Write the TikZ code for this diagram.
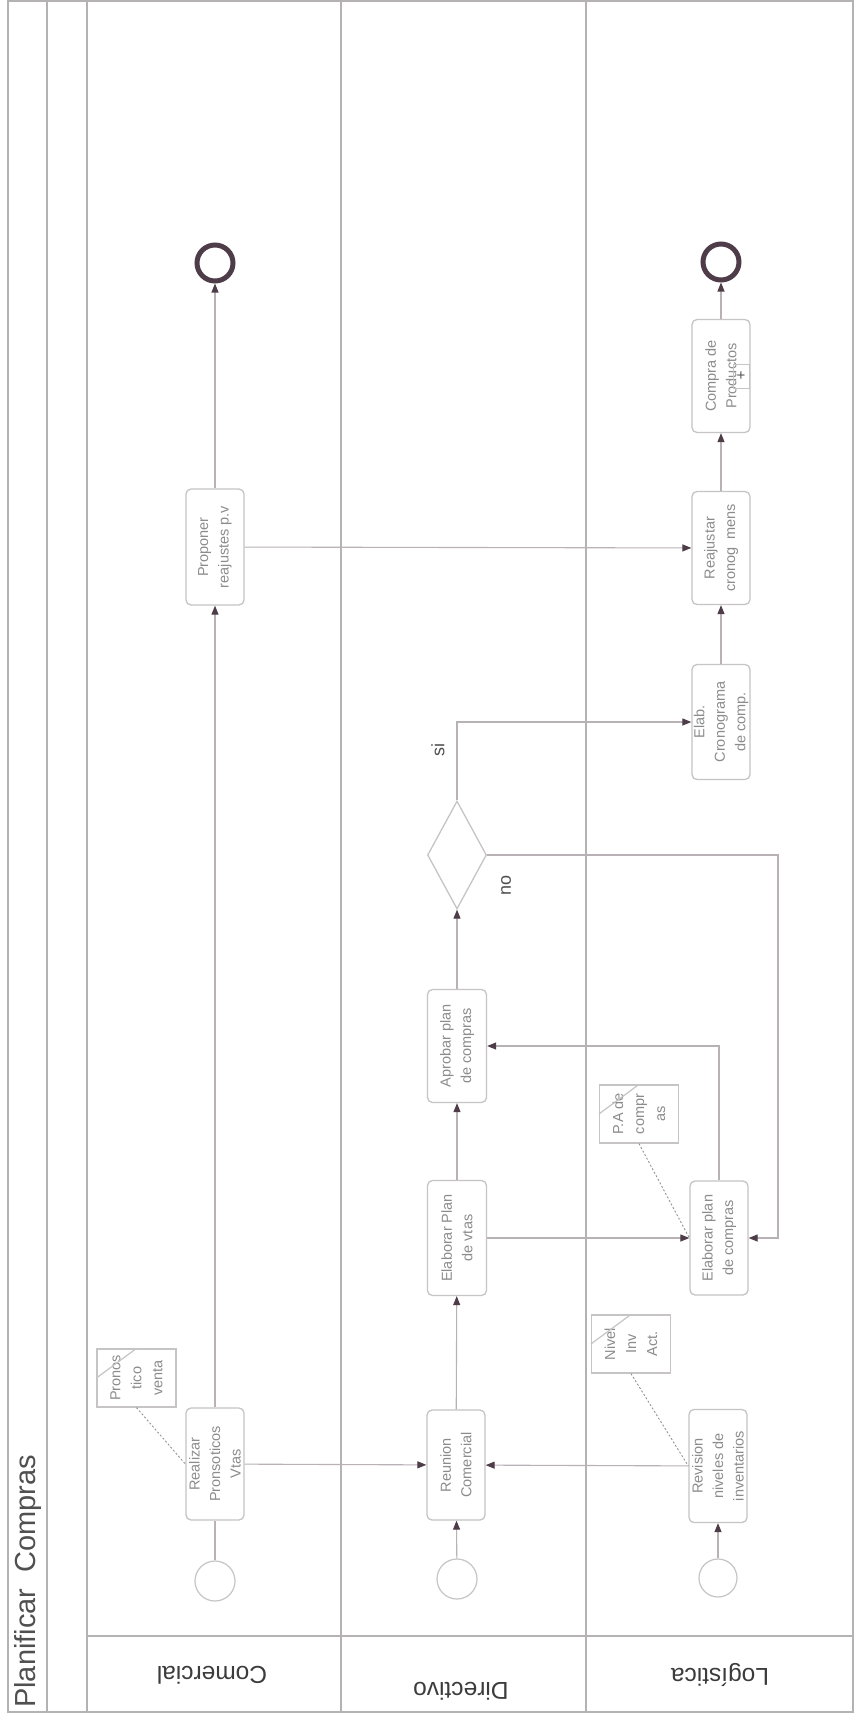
\documentclass[tikz,border=0pt]{standalone}
\usepackage{fontspec}
\setmainfont{Liberation Sans}
\usetikzlibrary{shapes.geometric,arrows.meta,calc}
\definecolor{linec}{HTML}{B8B2B6}
\definecolor{framec}{HTML}{B4B2B3}
\definecolor{boxc}{HTML}{C6C4C5}
\definecolor{txtc}{HTML}{8C8C8C}
\definecolor{tipc}{HTML}{4E3C48}
\definecolor{endc}{HTML}{4E3C48}
\definecolor{titlec}{HTML}{505050}
\definecolor{lanec}{HTML}{3C3C3C}
\begin{document}
\begin{tikzpicture}[x=1pt,y=-1pt,
 task/.style={draw=boxc, line width=1.3pt, rounded corners=5pt, rotate=90, align=center, text=txtc, font=\fontsize{14.5}{20.5}\selectfont, inner sep=0pt, minimum height=58pt},
 dataobj/.style={draw=boxc, line width=1.2pt, rotate=90, align=center, text=txtc, font=\fontsize{14.5}{21}\selectfont, inner sep=0pt, minimum width=58pt, minimum height=79pt},
 startev/.style={circle, draw=boxc, line width=1.2pt, minimum size=40pt, inner sep=0pt},
 endev/.style={circle, draw=endc, line width=5pt, minimum size=36pt, inner sep=0pt},
 flow/.style={draw=linec, line width=1.1pt, -{Triangle[length=9pt,width=7pt,color=tipc]}},
 plainflow/.style={draw=linec, line width=1.1pt},
 assoc/.style={draw=gray!85, line width=0.9pt, dash pattern=on 2pt off 2pt},
 fold/.style={draw=boxc, line width=1.2pt},
 frame/.style={draw=framec, line width=1.2pt},
 lbl/.style={rotate=90, text=titlec, font=\fontsize{18}{18}\selectfont, inner sep=0pt},
 lanelbl/.style={rotate=180, text=lanec, font=\fontsize{24.5}{25}\selectfont, inner sep=0pt}
]
\fill[white] (0,0) rectangle (855,1722);
\useasboundingbox (0,0) rectangle (855,1722);

% frame and lanes
\draw[frame] (8,1) rectangle (853,1712);
\draw[frame] (47,1) -- (47,1712);
\draw[frame] (87,1) -- (87,1712);
\draw[frame] (341,1) -- (341,1712);
\draw[frame] (586,1) -- (586,1712);
\draw[frame] (87,1636) -- (853,1636);

\node[rotate=90, anchor=west, text=titlec, font=\fontsize{29}{29}\selectfont, inner sep=0pt] (title) at (28,1708) {Planificar\ \ Compras};
\node[lanelbl] (lanC) at (212,1675) {Comercial};
\node[lanelbl] (lanD) at (461,1691) {Directivo};
\node[lanelbl] (lanL) at (720,1675) {Logística};

% Comercial
\node[startev] (sC) at (215,1581) {};
\node[task, minimum width=112pt] (tReal) at (215,1464) {Realizar\\Pronsoticos\\Vtas};
\node[dataobj] (dPron) at (136.5,1378) {Pronos\\tico\\venta};
\node[task, minimum width=116pt] (tProp) at (215,547) {Proponer\\reajustes p.v};
\node[endev] (eC) at (215,263) {};

% Directivo
\node[startev] (sD) at (457,1579) {};
\node[task, minimum width=110pt] (tReun) at (456,1465) {Reunion\\Comercial};
\node[task, minimum width=115pt, minimum height=59pt] (tEVtas) at (457,1238) {Elaborar Plan\\de vtas};
\node[task, minimum width=113pt, minimum height=59pt] (tAprob) at (457,1046) {Aprobar plan\\de compras};
\node[draw=boxc, line width=1.3pt, diamond, aspect=0.55, minimum width=59pt, minimum height=108pt, inner sep=0pt] (gw) at (457,855) {};
\node[lbl] (lSi) at (438,750) {si};
\node[lbl] (lNo) at (506,885) {no};

% Logistica
\node[startev, minimum size=38pt] (sL) at (718,1578) {};
\node[task, minimum width=113pt] (tRev) at (718,1466) {Revision\\niveles de\\inventarios};
\node[dataobj] (dNiv) at (631,1344) {Nivel\\Inv\\Act.};
\node[task, minimum width=114pt] (tEComp) at (719,1238) {Elaborar plan\\de compras};
\node[dataobj] (dPA) at (639,1114) {P.A de\\compr\\as};
\node[task, minimum width=115pt] (tCron) at (721,722) {Elab.\\Cronograma\\de comp.};
\node[task, minimum width=113pt] (tReaj) at (721,548) {Reajustar\\cronog\ \ mens};
\node[task, minimum width=113pt] (tCompra) at (721,376) {Compra de\\Productos};
\node[draw=boxc, line width=1pt, minimum width=16pt, minimum height=24pt, inner sep=0pt, text=txtc!60!black, font=\fontsize{15}{15}\selectfont] (mk) at (741,376) {+};
\node[endev] (eL) at (721,262) {};

% data object folds
\draw[fold] (dPron.north) -- (dPron.east);
\draw[fold] (dNiv.north) -- (dNiv.east);
\draw[fold] (dPA.north) -- (dPA.east);

% associations
\draw[assoc] (dPron.west) -- (tReal.north);
\draw[assoc] (dNiv.west) -- (tRev.north);
\draw[assoc] (dPA.west) -- (tEComp.north);

% sequence flows
\draw[plainflow] (sC) -- (tReal);
\draw[flow] (tReal) -- (tProp);
\draw[flow] (tProp) -- (eC);
\draw[flow] (tProp) -- (tReaj);
\draw[flow] (tReal) -- (tReun);
\draw[flow] (tRev) -- (tReun);
\draw[flow] (sD) -- (tReun);
\draw[flow] (sL) -- (tRev);
\draw[flow] (tReun) -- (tEVtas);
\draw[flow] (tEVtas) -- (tAprob);
\draw[flow] (tEVtas) -- (tEComp);
\draw[flow] (tEComp) |- (tAprob);
\draw[flow] (tAprob) -- (gw);
\draw[flow] (gw.north) |- (tCron);
\coordinate (noTurn) at (778,1000);
\draw[flow] (gw.east) -| (noTurn) |- (tEComp);
\draw[flow] (tCron) -- (tReaj);
\draw[flow] (tReaj) -- (tCompra);
\draw[flow] (tCompra) -- (eL);
\end{tikzpicture}
\end{document}
